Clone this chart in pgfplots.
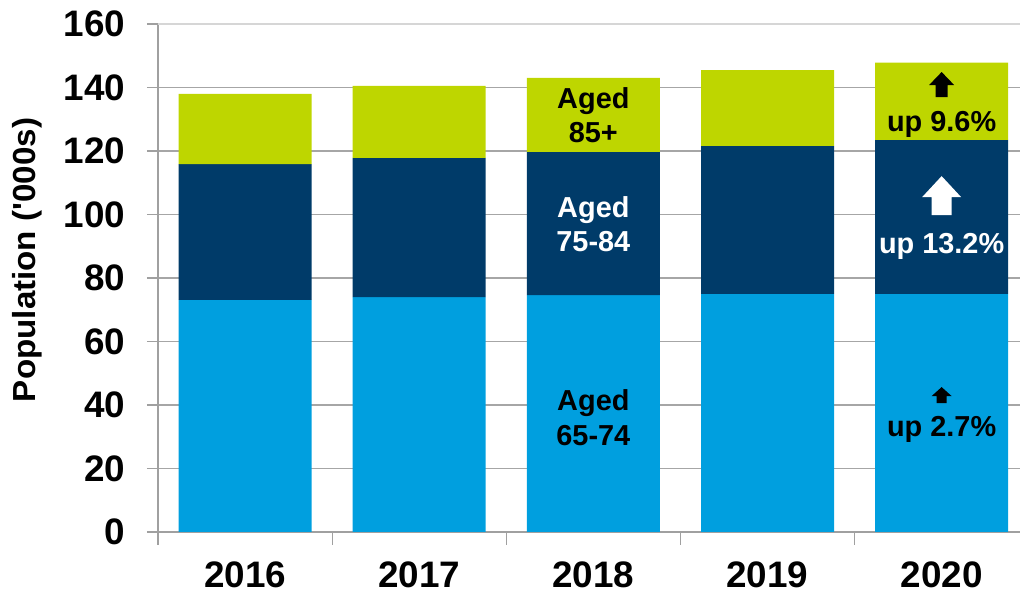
\documentclass[border=0pt]{standalone}
\usepackage{pgfplots}
\pgfplotsset{compat=1.18}
\usepackage{fontspec}
\setmainfont{Liberation Sans}
\definecolor{cA}{HTML}{009FDF}
\definecolor{cB}{HTML}{003B69}
\definecolor{cC}{HTML}{BED600}
\definecolor{axgray}{HTML}{A0A0A0}
\definecolor{grgray}{HTML}{A6A6A6}
\definecolor{topgray}{HTML}{D6D6D6}
\begin{document}
\begin{tikzpicture}
\begin{axis}[
  at={(158bp,61bp)}, anchor=south west,
  scale only axis, width=862bp, height=508bp,
  xmin=-0.5, xmax=4.45, ymin=0, ymax=160,
  ybar stacked, bar width=133bp, reverse stacked plots=false,
  xtick={0,1,2,3,4}, xticklabels={2016,2017,2018,2019,2020},
  minor xtick={-0.5,0.5,1.5,2.5,3.5},
  ytick={0,20,...,140},
  extra y ticks={160},
  extra y tick style={grid style={topgray, line width=1.5bp}},
  axis x line*=bottom, axis y line*=left,
  axis line style={draw=axgray, line width=1.2bp, -},
  tick align=outside, major tick length=11bp, minor tick length=13bp,
  major x tick style={draw=none},
  tick style={axgray, line width=1.2bp},
  ymajorgrids, grid style={grgray, line width=1.5bp},
  ticklabel style={font=\bfseries\fontsize{37}{40}\selectfont},
  yticklabel style={xshift=-18bp},
  xticklabel style={yshift=-15bp},
  /pgf/number format/assume math mode=true,
]
\addplot[fill=cA, draw=none] coordinates {(0,73.1) (1,74.0) (2,74.6) (3,75.0) (4,75.0)};
\addplot[fill=cB, draw=none] coordinates {(0,42.8) (1,43.8) (2,45.1) (3,46.6) (4,48.5)};
\addplot[fill=cC, draw=none] coordinates {(0,22.1) (1,22.7) (2,23.3) (3,23.9) (4,24.3)};

% labels in 2018 bar
\node[anchor=base, font=\bfseries\fontsize{29}{34}\selectfont, text=black] at (axis cs:2,133.5) {Aged};
\node[anchor=base, font=\bfseries\fontsize{29}{34}\selectfont, text=black] at (axis cs:2,122.8) {85+};
\node[anchor=base, font=\bfseries\fontsize{29}{34}\selectfont, text=white] at (axis cs:2,99.2) {Aged};
\node[anchor=base, font=\bfseries\fontsize{29}{34}\selectfont, text=white] at (axis cs:2,88.2) {75-84};
\node[anchor=base, font=\bfseries\fontsize{29}{34}\selectfont, text=black] at (axis cs:2,38.4) {Aged};
\node[anchor=base, font=\bfseries\fontsize{29}{34}\selectfont, text=black] at (axis cs:2,27.4) {65-74};

% 2020 annotations
\fill[black] (axis cs:4,137.0) ++(-6bp,0bp) -- ++(0bp,12bp) -- ++(-6.5bp,0bp) -- ++(12.5bp,13bp) -- ++(12.5bp,-13bp) -- ++(-6.5bp,0bp) -- ++(0bp,-12bp) -- cycle;
\node[anchor=base, font=\bfseries\fontsize{29}{34}\selectfont, text=black] at (axis cs:4,126.0) {up 9.6\%};
\fill[white] (axis cs:4,99.8) ++(-10bp,0bp) -- ++(0bp,18bp) -- ++(-9.5bp,0bp) -- ++(19.5bp,21bp) -- ++(19.5bp,-21bp) -- ++(-9.5bp,0bp) -- ++(0bp,-18bp) -- cycle;
\node[anchor=base, font=\bfseries\fontsize{29}{34}\selectfont, text=white] at (axis cs:4,87.6) {up 13.2\%};
\fill[black] (axis cs:4,40.6) ++(-5bp,0bp) -- ++(0bp,7bp) -- ++(-5bp,0bp) -- ++(10bp,9bp) -- ++(10bp,-9bp) -- ++(-5bp,0bp) -- ++(0bp,-7bp) -- cycle;
\node[anchor=base, font=\bfseries\fontsize{29}{34}\selectfont, text=black] at (axis cs:4,30.2) {up 2.7\%};
\end{axis}
\node[rotate=90, font=\bfseries\fontsize{32}{34}\selectfont] at (27bp,333bp) {\scalebox{1.04}[1]{Population (\textquotesingle 000s)}};
\pgfresetboundingbox
\path[use as bounding box] (0,0) rectangle (1020bp,593bp);
\end{tikzpicture}
\end{document}
